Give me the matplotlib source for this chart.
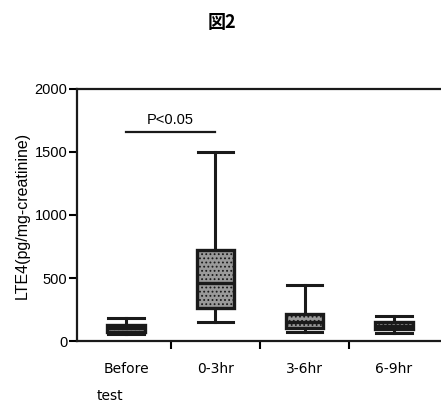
import matplotlib
matplotlib.use("Agg")
import matplotlib.pyplot as plt

# box statistics (pg/mg-creatinine)
groups = ["Before", "0-3hr", "3-6hr", "6-9hr"]
whis_low = [55, 150, 71, 63]
q1 = [75, 262, 103, 95]
median = [100, 460, 150, 119]
q3 = [125, 722, 214, 150]
whis_high = [185, 1500, 444, 198]

y_ticks = [0, 500, 1000, 1500, 2000]
sig_text = "P<0.05"
sig_level = 1660

plt.rcParams["font.family"] = ["Liberation Sans", "Noto Sans CJK JP"]
plt.rcParams["hatch.color"] = "#6e6e6e"
plt.rcParams["hatch.linewidth"] = 0.8

fig = plt.figure(figsize=(4.41, 4.08), dpi=100)
ax = fig.add_axes([0.1746, 0.1642, 0.84, 0.6177])

stats = []
for i, g in enumerate(groups):
    stats.append({
        "label": g,
        "whislo": whis_low[i],
        "q1": q1[i],
        "med": median[i],
        "q3": q3[i],
        "whishi": whis_high[i],
        "fliers": [],
    })

positions = list(range(len(groups)))
bp = ax.bxp(
    stats,
    positions=positions,
    widths=0.42,
    patch_artist=True,
    showfliers=False,
    boxprops=dict(facecolor="#9a9a9a", edgecolor="#1a1a1a", linewidth=2.4, hatch="...."),
    medianprops=dict(color="#1a1a1a", linewidth=2.4),
    whiskerprops=dict(color="#1a1a1a", linewidth=2.2),
    capprops=dict(color="#1a1a1a", linewidth=2.2),
    capwidths=0.4,
)

ax.set_xlim(-0.55, 3.6)
ax.set_ylim(0, 2000)
ax.set_yticks(y_ticks)
ax.set_yticklabels([str(v) for v in y_ticks], fontsize=10.5)
ax.tick_params(axis="y", direction="out", length=6, width=1.5, pad=1)

ax.set_xticks([0.5, 1.5, 2.5])
ax.set_xticklabels([])
ax.tick_params(axis="x", which="major", direction="out", length=6, width=1.5)
ax.set_xticks(positions, minor=True)
ax.set_xticklabels(groups, minor=True, fontsize=10, family=["DejaVu Sans"])
ax.tick_params(axis="x", which="minor", length=0, pad=15)

for side in ["left", "top", "bottom", "right"]:
    ax.spines[side].set_linewidth(1.6)
    ax.spines[side].set_color("#1a1a1a")

ax.set_ylabel("LTE4(pg/mg-creatinine)", fontsize=11.5, labelpad=3)

# significance bar between Before and 0-3hr
ax.plot([0, 1], [sig_level, sig_level], color="#1a1a1a", linewidth=1.6, clip_on=False)
ax.text(0.5, sig_level + 40, sig_text, ha="center", va="bottom", fontsize=10.5)

fig.text(0.22, 0.02, "test", fontsize=10, family=["DejaVu Sans"])
fig.text(0.503, 0.945, "図2", ha="center", va="center", fontsize=13, fontweight="bold",
         family=["Noto Sans CJK JP", "DejaVu Sans"])

fig.savefig("out.png", dpi=100)
